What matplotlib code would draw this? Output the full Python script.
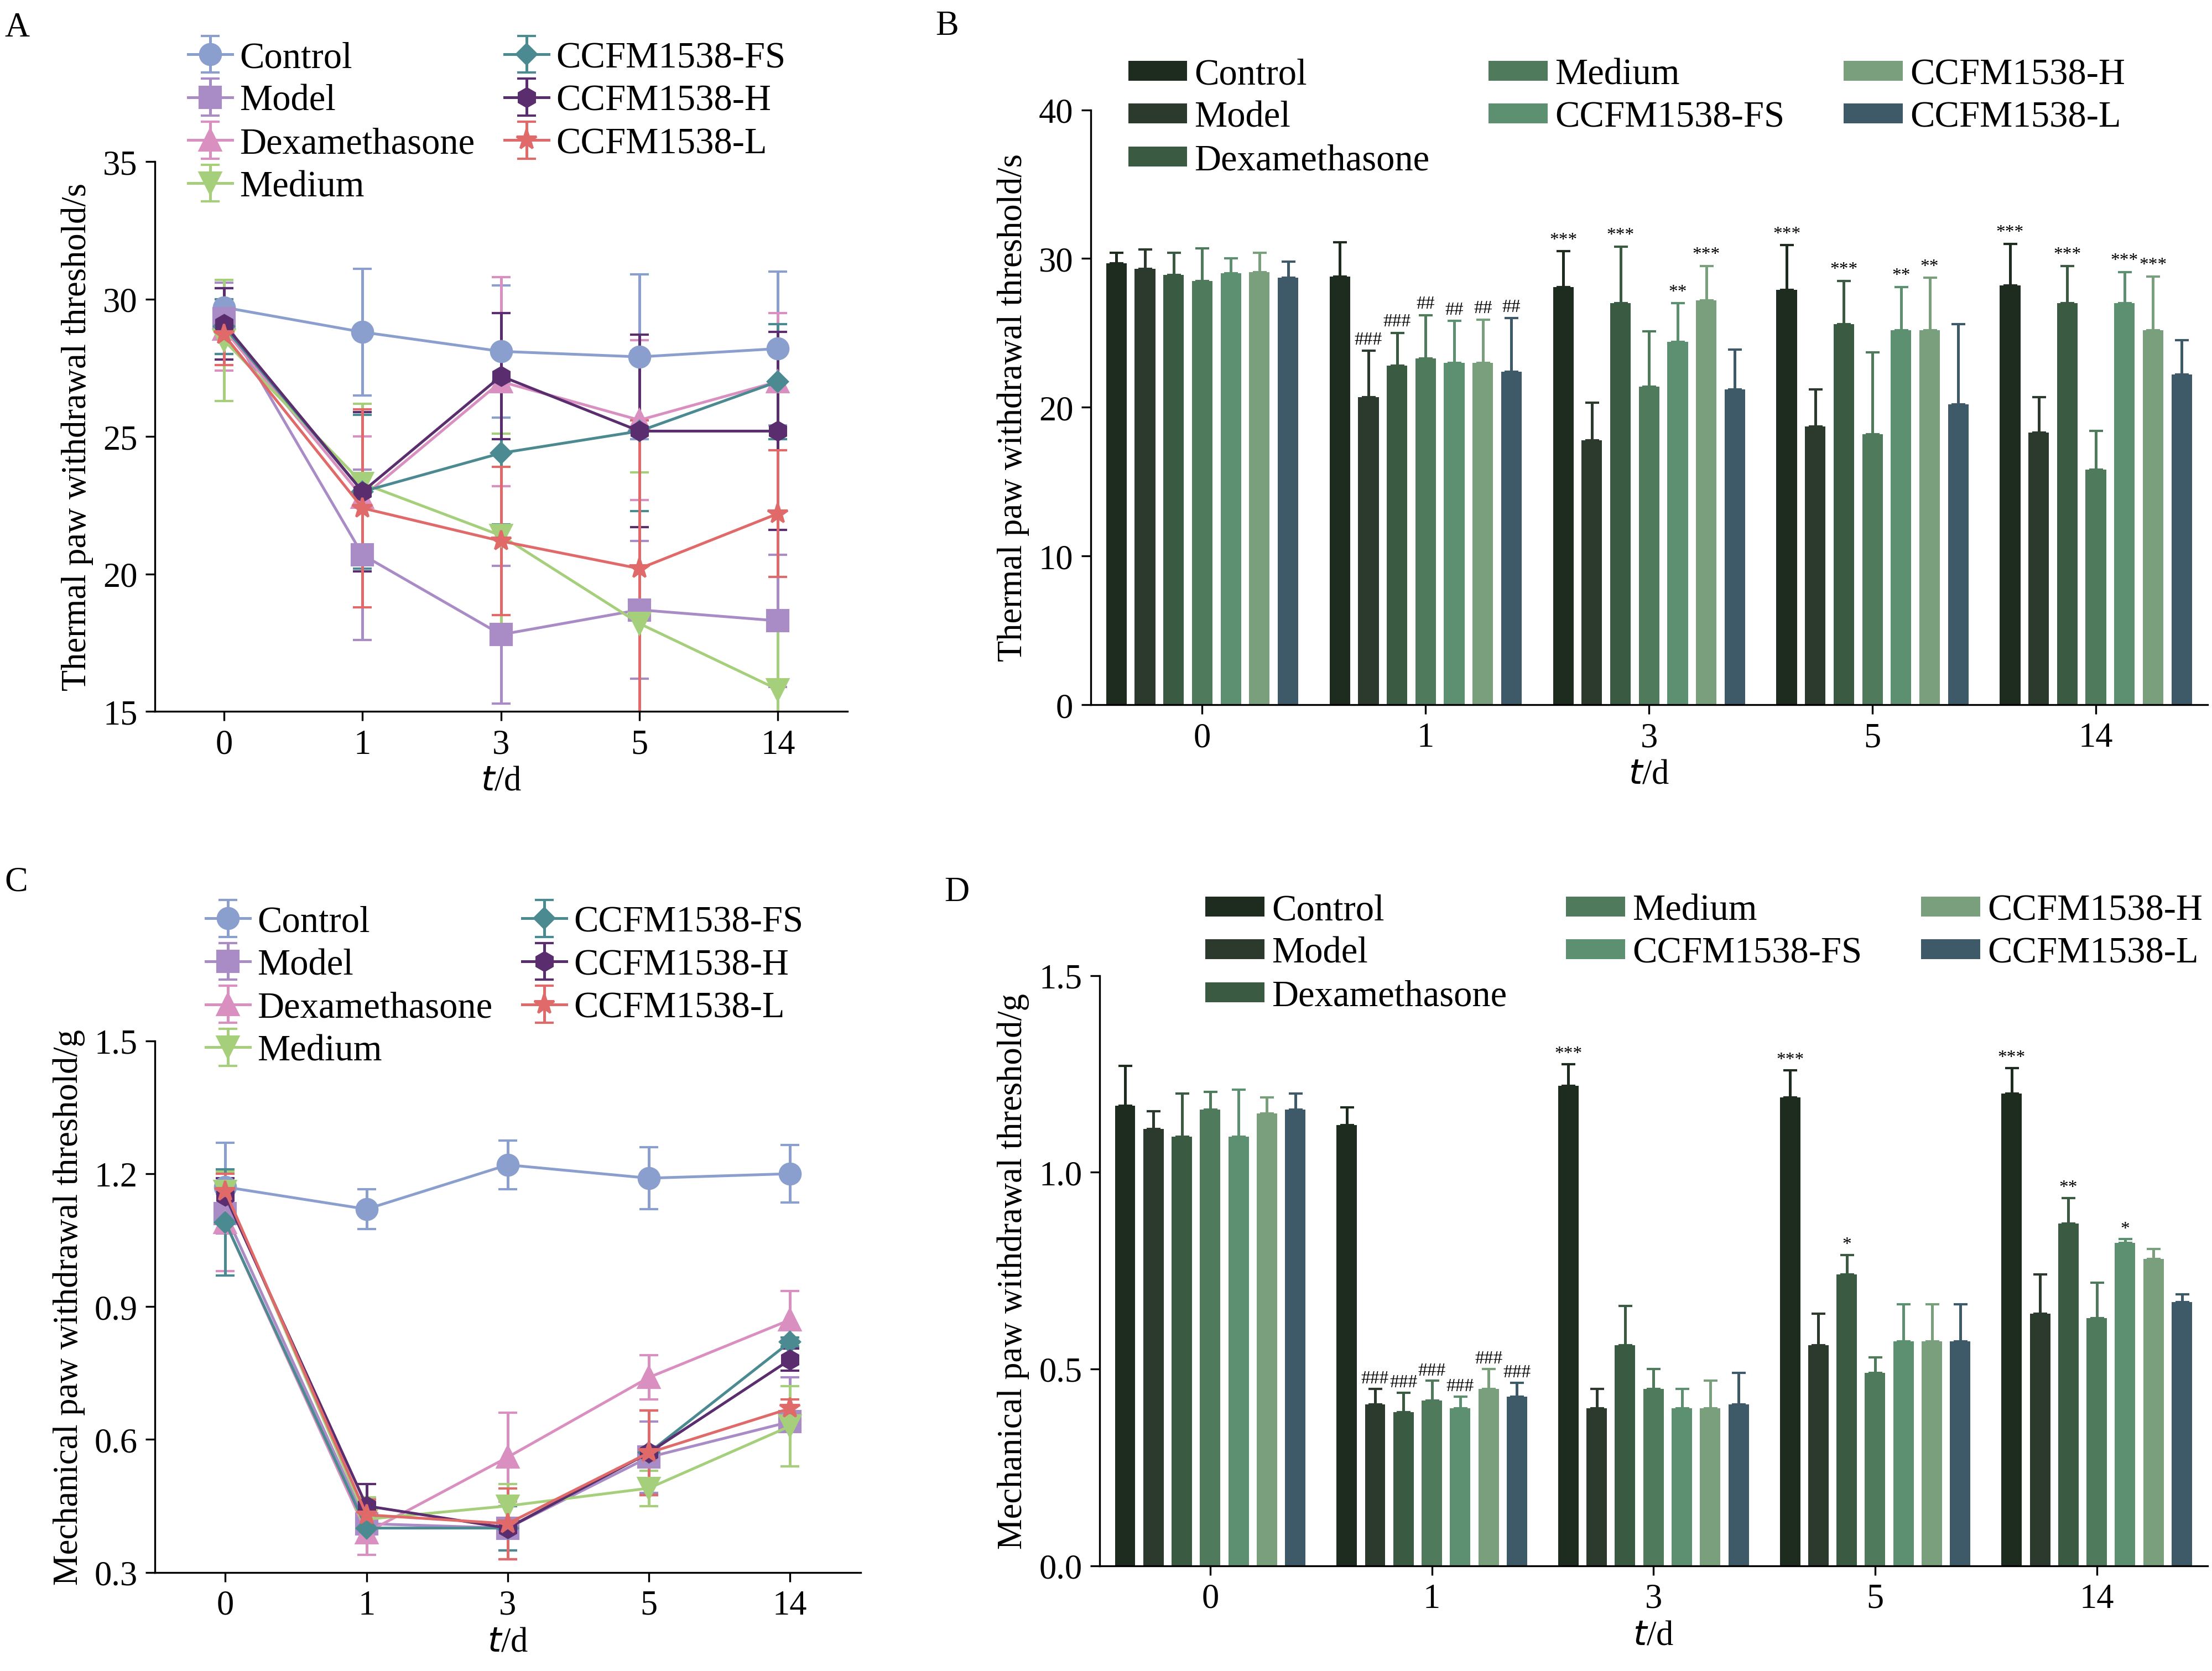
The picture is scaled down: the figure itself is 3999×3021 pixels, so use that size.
import matplotlib
matplotlib.use("Agg")
import matplotlib.pyplot as plt
import numpy as np

plt.rcParams['font.family'] = ['Liberation Serif', 'DejaVu Serif']
plt.rcParams['font.size'] = 15

days = ["0", "1", "3", "5", "14"]
groups = ["Control", "Model", "Dexamethasone", "Medium", "CCFM1538-FS", "CCFM1538-H", "CCFM1538-L"]

thermal = {
    "Control": [29.7, 28.8, 28.1, 27.9, 28.2],
    "Model": [29.3, 20.7, 17.8, 18.7, 18.3],
    "Dexamethasone": [28.9, 22.8, 27.0, 25.6, 27.0],
    "Medium": [28.5, 23.3, 21.4, 18.2, 15.8],
    "CCFM1538-FS": [29.0, 23.0, 24.4, 25.2, 27.0],
    "CCFM1538-H": [29.1, 23.0, 27.2, 25.2, 25.2],
    "CCFM1538-L": [28.7, 22.4, 21.2, 20.2, 22.2],
}
thermal_err = {
    "Control": [0.7, 2.3, 2.4, 3.0, 2.8],
    "Model": [1.3, 3.1, 2.5, 2.5, 2.4],
    "Dexamethasone": [1.5, 2.2, 3.8, 2.9, 2.5],
    "Medium": [2.2, 2.9, 3.7, 5.5, 2.6],
    "CCFM1538-FS": [1.0, 2.8, 2.6, 2.9, 2.1],
    "CCFM1538-H": [1.3, 2.9, 2.3, 3.5, 3.6],
    "CCFM1538-L": [1.1, 3.6, 2.7, 5.4, 2.3],
}
mech = {
    "Control": [1.17, 1.12, 1.22, 1.19, 1.20],
    "Model": [1.11, 0.41, 0.40, 0.56, 0.64],
    "Dexamethasone": [1.09, 0.39, 0.56, 0.74, 0.87],
    "Medium": [1.16, 0.42, 0.45, 0.49, 0.63],
    "CCFM1538-FS": [1.09, 0.40, 0.40, 0.57, 0.82],
    "CCFM1538-H": [1.15, 0.45, 0.40, 0.57, 0.78],
    "CCFM1538-L": [1.16, 0.43, 0.41, 0.57, 0.67],
}
mech_err = {
    "Control": [0.10, 0.045, 0.055, 0.07, 0.065],
    "Model": [0.045, 0.04, 0.05, 0.08, 0.10],
    "Dexamethasone": [0.11, 0.05, 0.10, 0.05, 0.065],
    "Medium": [0.045, 0.05, 0.05, 0.04, 0.09],
    "CCFM1538-FS": [0.12, 0.03, 0.05, 0.095, 0.01],
    "CCFM1538-H": [0.04, 0.05, 0.07, 0.095, 0.025],
    "CCFM1538-L": [0.04, 0.035, 0.08, 0.095, 0.02],
}
thermal_sig = {
    1: ["", "###", "###", "##", "##", "##", "##"],
    2: ["***", "", "***", "", "**", "***", ""],
    3: ["***", "", "***", "", "**", "**", ""],
    4: ["***", "", "***", "", "***", "***", ""],
}
mech_sig = {
    1: ["", "###", "###", "###", "###", "###", "###"],
    2: ["***", "", "", "", "", "", ""],
    3: ["***", "", "*", "", "", "", ""],
    4: ["***", "", "**", "", "*", "", ""],
}

line_colors = {"Control": "#8b9fcf", "Model": "#a98bc6", "Dexamethasone": "#d98fbf",
               "Medium": "#a6cf7c", "CCFM1538-FS": "#4a8a90", "CCFM1538-H": "#5a2d6e",
               "CCFM1538-L": "#e06a6a"}
markers = {"Control": "o", "Model": "s", "Dexamethasone": "^", "Medium": "v",
           "CCFM1538-FS": "D", "CCFM1538-H": "h", "CCFM1538-L": "*"}
msizes = {"Control": 9, "Model": 9, "Dexamethasone": 9, "Medium": 9,
          "CCFM1538-FS": 6, "CCFM1538-H": 8, "CCFM1538-L": 9}
bar_colors = {"Control": "#1e2b1f", "Model": "#2c3a2e", "Dexamethasone": "#3b5a42",
              "Medium": "#4f7b5c", "CCFM1538-FS": "#5d9070", "CCFM1538-H": "#7a9f7c",
              "CCFM1538-L": "#3e5967"}

fig = plt.figure(figsize=(13.33, 10.073), dpi=300)

def style(ax):
    for s in ["top", "right"]:
        ax.spines[s].set_visible(False)
    ax.tick_params(direction="out", length=4)

def line_panel(rect, data, err, ylim, yticks, ylabel, letter, legpos):
    ax = fig.add_axes(rect)
    x = np.arange(len(days))
    for g in groups:
        ax.errorbar(x, data[g], yerr=err[g], color=line_colors[g], marker=markers[g],
                    ms=msizes[g], lw=1.2, capsize=4, elinewidth=1.2, label=g)
    ax.set_xlim(-0.5, 4.5)
    ax.set_ylim(*ylim)
    ax.set_yticks(yticks)
    ax.set_xticks(x, days)
    ax.set_ylabel(ylabel)
    ax.set_xlabel("$t$/d", labelpad=2)
    style(ax)
    ax.legend(ncol=2, loc="upper left", bbox_to_anchor=legpos, bbox_transform=fig.transFigure,
              frameon=False, handlelength=1.2, handletextpad=0.2, columnspacing=0.8,
              labelspacing=0.25, fontsize=16)
    fig.text(0.002, rect[1] + rect[3] + (0.075 if letter == "A" else 0.09), letter, fontsize=15)
    return ax

def bar_panel(rect, data, err, sig, ylim, yticks, ylabel, letter, legpos, sigoff):
    ax = fig.add_axes(rect)
    n = len(groups)
    w = 0.128
    x = np.arange(len(days))
    for i, g in enumerate(groups):
        pos = x + (i - (n - 1) / 2) * w
        ax.bar(pos, data[g], w * 0.72, color=bar_colors[g], label=g)
        ax.errorbar(pos, data[g], yerr=[np.zeros(5), err[g]], fmt="none",
                    ecolor=bar_colors[g], capsize=3, elinewidth=1.2)
        for d, labs in sig.items():
            if labs[i]:
                ax.text(pos[d], data[g][d] + err[g][d] + sigoff, labs[i],
                        ha="center", va="bottom", fontsize=8)
    ax.set_xlim(-0.5, 4.5)
    ax.set_ylim(*ylim)
    ax.set_yticks(yticks)
    ax.set_xticks(x, days)
    ax.set_ylabel(ylabel)
    ax.set_xlabel("$t$/d", labelpad=2)
    style(ax)
    ax.legend(ncol=3, loc="upper left", bbox_to_anchor=legpos, bbox_transform=fig.transFigure,
              frameon=False, handlelength=1.6, handleheight=0.45, handletextpad=0.2,
              columnspacing=1.6, labelspacing=0.25, fontsize=16)
    fig.text(rect[0] - 0.07, rect[1] + rect[3] + 0.045, letter, fontsize=15)
    return ax

line_panel([0.070, 0.574, 0.313, 0.329], thermal, thermal_err, (15, 35), [15, 20, 25, 30, 35],
           "Thermal paw withdrawal threshold/s", "A", (0.07, 0.995))
bar_panel([0.493, 0.578, 0.505, 0.356], thermal, thermal_err, thermal_sig, (0, 40), [0, 10, 20, 30, 40],
          "Thermal paw withdrawal threshold/s", "B", (0.495, 0.985), 0.2)
line_panel([0.070, 0.059, 0.319, 0.318], mech, mech_err, (0.3, 1.5), [0.3, 0.6, 0.9, 1.2, 1.5],
           "Mechanical paw withdrawal threshold/g", "C", (0.078, 0.478))
bar_panel([0.497, 0.063, 0.501, 0.353], mech, mech_err, mech_sig, (0, 1.5), [0, 0.5, 1.0, 1.5],
          "Mechanical paw withdrawal threshold/g", "D", (0.530, 0.485), 0.005)

fig.savefig("out.png", dpi=300)
